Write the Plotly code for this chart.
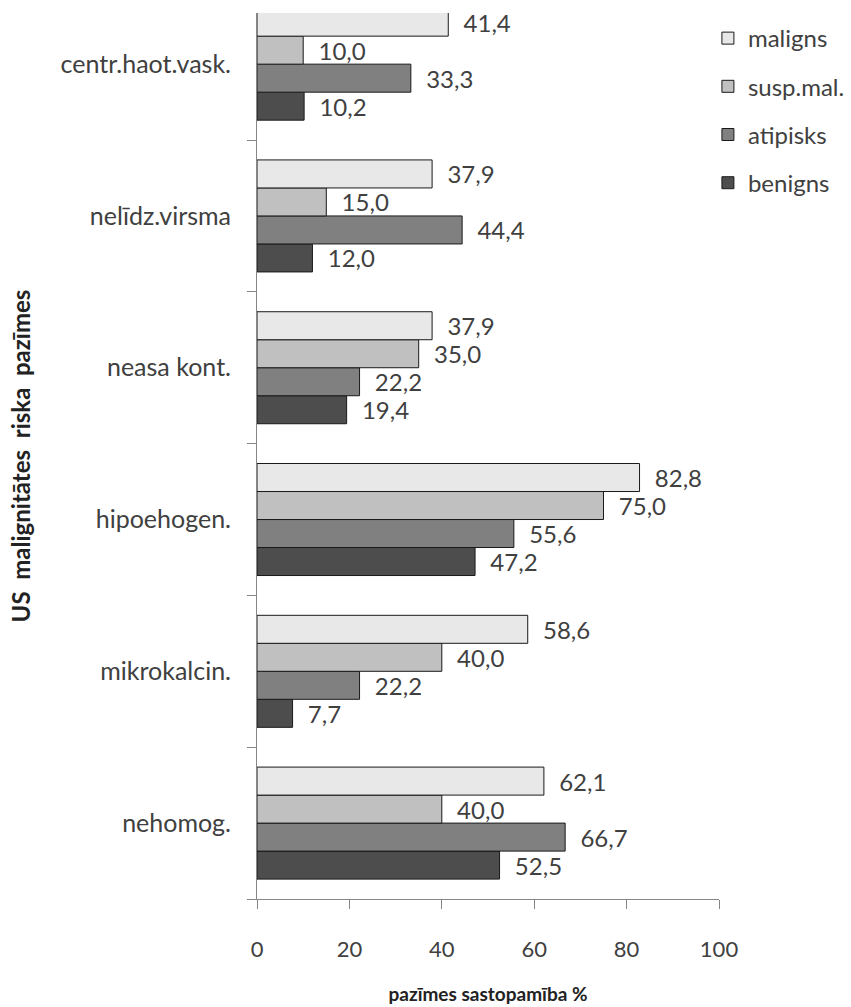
import plotly.graph_objects as go

# Ultrasound malignancy-risk features, bottom-to-top order on the category axis
categories = ["nehomog.", "mikrokalcin.", "hipoehogen.", "neasa kont.",
              "nelīdz.virsma", "centr.haot.vask."]

benigns = [52.5, 7.7, 47.2, 19.4, 12.0, 10.2]
atipisks = [66.7, 22.2, 55.6, 22.2, 44.4, 33.3]
susp_mal = [40.0, 40.0, 75.0, 35.0, 15.0, 10.0]
maligns = [62.1, 58.6, 82.8, 37.9, 37.9, 41.4]

x_ticks = [0, 20, 40, 60, 80, 100]

FONT = "Lato"
TEXT = "#404040"
AXIS = "#868686"
SP = "\u00a0 "  # wide word gap in the axis title

# (name, values, fill, legend rank) -- first trace sits lowest in each group
series = [
    ("benigns", benigns, "#4d4d4d", 4),
    ("atipisks", atipisks, "#808080", 3),
    ("susp.mal.", susp_mal, "#c0c0c0", 2),
    ("maligns", maligns, "#e8e8e8", 1),
]

fig = go.Figure()
for name, vals, color, rank in series:
    fig.add_trace(go.Bar(
        y=categories, x=vals, name=name, orientation="h",
        legendgroup=name, legendrank=rank,
        marker=dict(color=color, line=dict(color="#1a1a1a", width=1)),
        texttemplate="\u00a0\u00a0%{x:.1f}",
        textposition="outside",
        textfont=dict(family=FONT, size=24, color=TEXT),
        constraintext="none",
        cliponaxis=False,
        hoverinfo="skip",
    ))

fig.update_layout(
    width=851, height=1007,
    margin=dict(l=257, r=132, t=13, b=108, autoexpand=False),
    paper_bgcolor="white", plot_bgcolor="white",
    barmode="group", bargap=0.262, bargroupgap=0,
    separators=", ",
    font=dict(family=FONT, size=22, color=TEXT),
    legend=dict(
        x=0.976, y=0.9966, xanchor="left", yanchor="top",
        traceorder="grouped", tracegroupgap=14,
        font=dict(family=FONT, size=24, color=TEXT),
        itemwidth=30, bgcolor="rgba(0,0,0,0)",
    ),
    showlegend=True,
)

fig.update_xaxes(
    range=[0, 100], tickvals=x_ticks,
    showgrid=False, zeroline=False,
    showline=True, linecolor=AXIS, linewidth=1,
    ticks="outside", ticklen=9, tickcolor=AXIS,
    tickfont=dict(family=FONT, size=22, color=TEXT),
    ticklabelstandoff=22,
    title=dict(text="<b>pazīmes sastopamība %</b>",
               font=dict(family=FONT, size=19, color="#222222"),
               standoff=26),
)

fig.update_yaxes(
    type="category", categoryorder="array", categoryarray=categories,
    range=[-0.5, 5.337],
    showgrid=False, zeroline=False,
    showline=True, linecolor=AXIS, linewidth=1,
    ticks="outside", ticklen=9, tickcolor=AXIS, tickson="boundaries",
    tickfont=dict(family=FONT, size=25, color=TEXT),
    ticklabelstandoff=20,
    title=dict(text="<b>US" + SP + "malignitātes" + SP + "riska" + SP + "pazīmes</b>",
               font=dict(family=FONT, size=24, color="#222222"),
               standoff=23),
)

fig.write_html("out.html")
